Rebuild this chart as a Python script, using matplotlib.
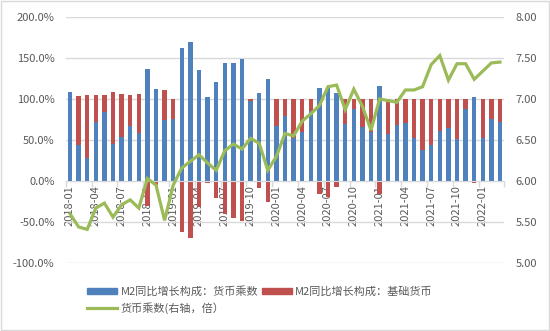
import numpy as np
import pandas as pd
import matplotlib
matplotlib.use('Agg')
import matplotlib.pyplot as plt
from matplotlib.patches import Rectangle
from matplotlib.ticker import FuncFormatter, FixedLocator

plt.rcParams['font.family'] = ['Noto Sans CJK SC', 'DejaVu Sans']

months = [p.strftime('%Y-%m') for p in pd.period_range('2018-01', '2022-03', freq='M')]

# M2 同比增长构成（%）
multiplier_part = [108.5, 43.7, 28, 72.5, 84.4, 45, 53.6, 67, 58, 137,
                   112, 74.5, 75.4, 162.8, 169.7, 135, 102.4, 120.5, 143.5, 144,
                   148.4, 98, 107.4, 124.6, 67.5, 79.8, 53, 60, 85.6, 114,
                   114.5, 107, 69, 88, 65.5, 60, 116.4, 57, 68.3, 70.4,
                   52, 38.4, 43.7, 61, 65, 51, 87.7, 103, 52, 75.4, 71.7]
base_part = [0, 60, 77, 32.5, 20, 63, 52, 38, 48, -30,
             -5, 36, 24, -62, -69, -32, -2.5, -21, -40, -45,
             -48.6, 2, -8, -25, 32.5, 20, 47, 40, 14, -16,
             -19, -7.5, 31, 12, 34.5, 40, -16, 43, 32, 30,
             48, 61.6, 56, 39, 35, 49, 12, -3, 48, 24.6, 28]
# 货币乘数（倍）
multiplier = [5.60, 5.44, 5.41, 5.67, 5.73, 5.56, 5.71, 5.77, 5.67, 6.03,
              5.95, 5.52, 5.95, 6.16, 6.24, 6.32, 6.22, 6.13, 6.37, 6.45,
              6.39, 6.52, 6.46, 6.13, 6.30, 6.58, 6.55, 6.73, 6.82, 6.92,
              7.15, 7.17, 6.87, 7.12, 6.91, 6.62, 7.00, 6.98, 6.96, 7.11,
              7.11, 7.15, 7.42, 7.53, 7.23, 7.43, 7.43, 7.24, 7.34, 7.44, 7.45]

blue = '#4F81BD'
red = '#C0504D'
green = '#9BBB59'
grid = '#D9D9D9'
text = '#595959'

x = np.arange(len(months))
mp = np.array(multiplier_part)
bp = np.array(base_part)
bp_bottom = np.where(bp > 0, mp, 0)

fig = plt.figure(figsize=(5.5, 3.31), dpi=100)
ax = fig.add_axes([65.7 / 550, 1 - 263 / 331, (504.3 - 65.7) / 550, 246 / 331])
ax2 = ax.twinx()

ax.set_zorder(1)
ax2.set_zorder(2)
ax2.patch.set_visible(False)

ax.bar(x, mp, width=0.5, color=blue, zorder=2)
ax.bar(x, bp, width=0.5, bottom=bp_bottom, color=red, zorder=2)
ax2.plot(x, multiplier, color=green, lw=2.3, solid_joinstyle='miter')

ax.set_xlim(-0.5, len(months) - 0.5)
ax.set_ylim(-100, 200)
ax2.set_ylim(5, 8)
ax.set_yticks(np.arange(-100, 201, 50))
ax2.set_yticks(np.arange(5, 8.01, 0.5))
ax.yaxis.set_major_formatter(FuncFormatter(lambda v, p: f'{v:.1f}%'))
ax2.yaxis.set_major_formatter(FuncFormatter(lambda v, p: f'{v:.2f}'))
ax.grid(axis='y', color=grid, lw=1, zorder=0)

for a in (ax, ax2):
    for s in a.spines.values():
        s.set_visible(False)
    a.tick_params(axis='y', length=0, labelsize=8, labelcolor=text, pad=8)

# category axis sits on the zero line
ax.spines['bottom'].set_visible(True)
ax.spines['bottom'].set_position(('data', 0))
ax.spines['bottom'].set_color(grid)
ax.xaxis.set_major_locator(FixedLocator(x[::3]))
ax.set_xticklabels(months[::3], rotation=90)
ax.xaxis.set_minor_locator(FixedLocator(np.arange(-0.5, len(months), 3)))
ax.tick_params(axis='x', which='major', length=0, labelsize=8, labelcolor=text, pad=3)
ax.tick_params(axis='x', which='minor', length=4, color=grid, width=1)

h1 = Rectangle((0, 0), 1, 1, color=blue)
h2 = Rectangle((0, 0), 1, 1, color=red)
h3, = ax2.plot([], [], color=green, lw=2.3)
fig.legend([h1, h3, h2],
           ['M2同比增长构成：货币乘数', '货币乘数(右轴，倍）', 'M2同比增长构成：基础货币'],
           ncol=2, loc='center', bbox_to_anchor=(260 / 550, 1 - 300 / 331),
           frameon=False, fontsize=8, labelcolor=text, handlelength=2.7,
           handleheight=0.5, handletextpad=0.3, columnspacing=0.3, labelspacing=0.45)

fig.add_artist(Rectangle((0.002, 0.003), 0.996, 0.994, transform=fig.transFigure,
                         fill=False, edgecolor=grid, lw=1))

fig.savefig('out.png', dpi=100)
